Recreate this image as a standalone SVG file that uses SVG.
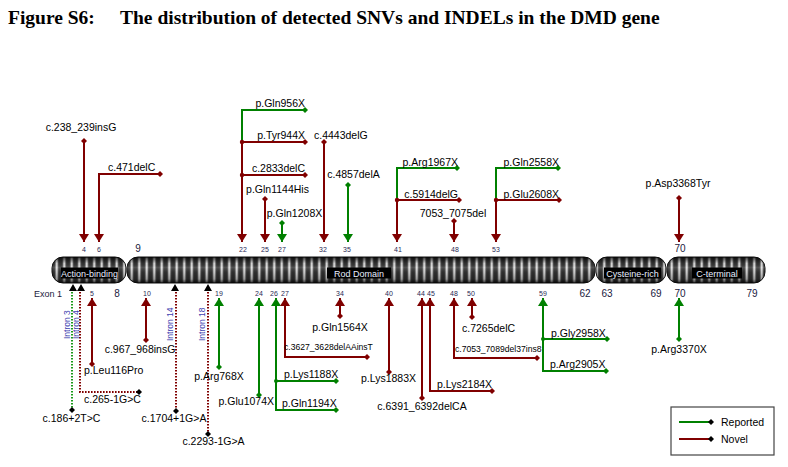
<svg xmlns="http://www.w3.org/2000/svg" width="788" height="467" viewBox="0 0 788 467">
<style>
.t{font-family:"Liberation Sans",Arial,sans-serif;font-size:10.5px;fill:#000}
.s{font-family:"Liberation Sans",Arial,sans-serif;font-size:8.6px;fill:#000}
.n{font-family:"Liberation Sans",Arial,sans-serif;font-size:7px;fill:#2a2a55}
.N{font-family:"Liberation Sans",Arial,sans-serif;font-size:10px;fill:#1a1a40}
.in{font-family:"Liberation Sans",Arial,sans-serif;font-size:8.5px;fill:#4040b0}
.bl{font-family:"Liberation Sans",Arial,sans-serif;font-size:9px;fill:#e8eeff}
.r{stroke:#800000;stroke-width:2;fill:none}
.g{stroke:#008000;stroke-width:2;fill:none}
.rd{stroke:#800000;stroke-width:2;fill:none;stroke-dasharray:1.6 1.4}
.gd{stroke:#1a9a1a;stroke-width:2;fill:none;stroke-dasharray:1.6 1.4}
.ra{marker-start:url(#dr);marker-end:url(#ar)}
.ga{marker-start:url(#dg);marker-end:url(#ag)}
.ro{marker-start:url(#dr)}
.go{marker-start:url(#dg)}
.ie{marker-end:url(#dk)}
.seg{fill:url(#stripes);stroke:#111;stroke-width:1}
.shade{fill:url(#cyl)}
.box{fill:#000}
</style>
<defs>
<marker id="ar" viewBox="0 0 8 10" refX="8" refY="5" markerWidth="8" markerHeight="10" markerUnits="userSpaceOnUse" orient="auto"><path d="M0,0 L8,5 L0,10 z" fill="#800000"/></marker>
<marker id="ag" viewBox="0 0 8 10" refX="8" refY="5" markerWidth="8" markerHeight="10" markerUnits="userSpaceOnUse" orient="auto"><path d="M0,0 L8,5 L0,10 z" fill="#008000"/></marker>
<marker id="dr" viewBox="0 0 6 6" refX="3" refY="3" markerWidth="6" markerHeight="6" markerUnits="userSpaceOnUse" orient="0"><path d="M3,0 L6,3 L3,6 L0,3 z" fill="#800000"/></marker>
<marker id="dg" viewBox="0 0 6 6" refX="3" refY="3" markerWidth="6" markerHeight="6" markerUnits="userSpaceOnUse" orient="0"><path d="M3,0 L6,3 L3,6 L0,3 z" fill="#008000"/></marker>
<marker id="dk" viewBox="0 0 6 6" refX="3" refY="3" markerWidth="6" markerHeight="6" markerUnits="userSpaceOnUse" orient="0"><path d="M3,0 L6,3 L3,6 L0,3 z" fill="#000"/></marker>
<linearGradient id="lite" x1="0" y1="0" x2="1" y2="0"><stop offset="0" stop-color="#666"/><stop offset="0.5" stop-color="#f2f2f2"/><stop offset="1" stop-color="#666"/></linearGradient>
<pattern id="stripes" patternUnits="userSpaceOnUse" x="0" y="0" width="7.5" height="30"><rect width="7.5" height="30" fill="#333"/><rect x="2.5" width="3.5" height="30" fill="url(#lite)"/></pattern>
<linearGradient id="cyl" x1="0" y1="0" x2="0" y2="1"><stop offset="0" stop-color="#000" stop-opacity="0.75"/><stop offset="0.25" stop-color="#000" stop-opacity="0.05"/><stop offset="0.4" stop-color="#fff" stop-opacity="0.15"/><stop offset="0.6" stop-color="#000" stop-opacity="0.1"/><stop offset="0.85" stop-color="#000" stop-opacity="0.3"/><stop offset="1" stop-color="#000" stop-opacity="0.8"/></linearGradient>
</defs>
<rect width="788" height="467" fill="#fff"/>
<text x="8" y="24" font-family="Liberation Serif,'Times New Roman',serif" font-weight="bold" font-size="19.5" fill="#000">Figure S6:<tspan x="120">The distribution of detected SNVs and INDELs in the DMD gene</tspan></text>

<g id="gene">
<rect class="seg" x="52" y="257" width="74" height="26" rx="11"/><rect class="shade" x="52" y="257" width="74" height="26" rx="11"/>
<rect class="seg" x="127" y="257" width="468" height="26" rx="11"/><rect class="shade" x="127" y="257" width="468" height="26" rx="11"/>
<rect class="seg" x="596" y="257" width="70" height="26" rx="11"/><rect class="shade" x="596" y="257" width="70" height="26" rx="11"/>
<rect class="seg" x="667" y="257" width="98" height="26" rx="11"/><rect class="shade" x="667" y="257" width="98" height="26" rx="11"/>
<rect class="box" x="61" y="267.5" width="57" height="11"/><text class="bl" x="89.5" y="276.5" text-anchor="middle">Action-binding</text>
<rect class="box" x="327" y="267.5" width="64" height="11"/><text class="bl" x="359" y="276.5" text-anchor="middle">Rod Domain</text>
<rect class="box" x="604" y="267.5" width="57" height="11"/><text class="bl" x="632.5" y="276.5" text-anchor="middle">Cysteine-rich</text>
<rect class="box" x="692" y="267.5" width="50" height="11"/><text class="bl" x="717" y="276.5" text-anchor="middle">C-terminal</text>
<path d="M73,284 L77,291 L69,291 z M81,284 L85,291 L77,291 z M175,284 L179,291 L171,291 z M208,284 L212,291 L204,291 z" fill="#000"/>
</g>

<g id="exon-numbers" text-anchor="middle">
<text class="n" x="84" y="252">4</text><text class="n" x="99" y="252">6</text><text class="N" x="138" y="252">9</text>
<text class="n" x="243" y="252">22</text><text class="n" x="265" y="252">25</text><text class="n" x="282" y="252">27</text>
<text class="n" x="323" y="252">32</text><text class="n" x="347" y="252">35</text><text class="n" x="398" y="252">41</text>
<text class="n" x="455" y="252">48</text><text class="n" x="496" y="252">53</text><text class="N" x="680" y="252">70</text>
<text class="N" x="48" y="297" style="font-size:9px">Exon 1</text>
<text class="n" x="92" y="296">5</text><text class="N" x="117" y="297">8</text><text class="n" x="147" y="296">10</text>
<text class="n" x="219" y="296">19</text><text class="n" x="259" y="296">24</text><text class="n" x="274" y="296">26</text><text class="n" x="285" y="296">27</text>
<text class="n" x="340" y="296">34</text><text class="n" x="389" y="296">40</text><text class="n" x="421" y="296">44</text><text class="n" x="431" y="296">45</text>
<text class="n" x="454" y="296">48</text><text class="n" x="471" y="296">50</text><text class="n" x="543" y="296">59</text>
<text class="N" x="585" y="297">62</text><text class="N" x="607" y="297">63</text><text class="N" x="656" y="297">69</text><text class="N" x="680" y="297">70</text><text class="N" x="752" y="297">79</text>
</g>

<g id="connectors">
<path class="r ra" d="M84,141 V242"/>
<path class="r ra" d="M160,174 H99 V242"/>
<path class="g go" d="M305,110 H242 V142"/>
<path class="r ra" d="M305,142 H242 V242"/>
<path class="r ro" d="M305,175 H242"/>
<path class="r ra" d="M265,199 V242"/>
<path class="g ga" d="M282,223 V242"/>
<path class="r ra" d="M324,142 V242"/>
<path class="g ga" d="M348,185 V242"/>
<path class="g go" d="M457,168 H397 V200"/>
<path class="r ra" d="M459,200 H397 V242"/>
<path class="r ra" d="M454,221 V242"/>
<path class="g go" d="M558,168 H496 V200"/>
<path class="r ra" d="M559,200 H496 V242"/>
<path class="r ra" d="M679,198 V242"/>
<path class="r ra" d="M92,364 V298"/>
<path class="r ra" d="M146,340 V298"/>
<path class="g ga" d="M219,367 V298"/>
<path class="g ga" d="M259,395 V298"/>
<path class="g ga" d="M336,381 H276 V298"/>
<path class="g go" d="M336,410 H276 V381"/>
<path class="r ra" d="M367,357 H285 V298"/>
<path class="r ra" d="M340,316 V298"/>
<path class="r ra" d="M389,372 V298"/>
<path class="r ra" d="M422,398 V298"/>
<path class="r ra" d="M492,391 H430 V298"/>
<path class="r ra" d="M537,358 H454 V298"/>
<path class="r ra" d="M472,317 V298"/>
<path class="g ga" d="M607,339 H543 V298"/>
<path class="g go" d="M606,371 H543 V339"/>
<path class="g ga" d="M679,339 V298"/>
<path class="gd ie" d="M72,292 V410"/>
<path class="rd ie" d="M80,292 V392 H139"/>
<path class="rd ie" d="M176,292 V411"/>
<path class="rd ie" d="M208,292 V434"/>
<circle cx="242" cy="142" r="2.2" fill="#800000"/><circle cx="242" cy="175" r="2.2" fill="#800000"/>
<circle cx="397" cy="200" r="2.2" fill="#800000"/><circle cx="496" cy="200" r="2.2" fill="#800000"/>
<circle cx="276" cy="381" r="2" fill="#008000"/><circle cx="543" cy="339" r="2" fill="#008000"/>
</g>

<g id="v-c238"><text class="t" x="81" y="131" text-anchor="middle">c.238_239insG</text></g>
<g id="v-c471"><text class="t" x="108" y="171">c.471delC</text></g>
<g id="v-gln956"><text class="t" x="305" y="107" text-anchor="end">p.Gln956X</text></g>
<g id="v-tyr944"><text class="t" x="305" y="139" text-anchor="end">p.Tyr944X</text></g>
<g id="v-c2833"><text class="t" x="305" y="172" text-anchor="end">c.2833delC</text></g>
<g id="v-gln1144"><text class="t" x="277.5" y="193" text-anchor="middle">p.Gln1144His</text></g>
<g id="v-gln1208"><text class="t" x="294.5" y="217" text-anchor="middle">p.Gln1208X</text></g>
<g id="v-c4443"><text class="t" x="314" y="139">c.4443delG</text></g>
<g id="v-c4857"><text class="t" x="353.5" y="178" text-anchor="middle">c.4857delA</text></g>
<g id="v-arg1967"><text class="t" x="458" y="166" text-anchor="end">p.Arg1967X</text></g>
<g id="v-c5914"><text class="t" x="458" y="198" text-anchor="end">c.5914delG</text></g>
<g id="v-7053"><text class="t" x="453" y="217" text-anchor="middle">7053_7075del</text></g>
<g id="v-gln2558"><text class="t" x="559" y="166" text-anchor="end">p.Gln2558X</text></g>
<g id="v-glu2608"><text class="t" x="559" y="198" text-anchor="end">p.Glu2608X</text></g>
<g id="v-asp3368"><text class="t" x="678" y="187" text-anchor="middle">p.Asp3368Tyr</text></g>
<g id="v-leu116"><text class="t" x="84" y="374">p.Leu116Pro</text></g>
<g id="v-c967"><text class="t" x="140" y="353" text-anchor="middle">c.967_968insG</text></g>
<g id="v-arg768"><text class="t" x="219" y="380" text-anchor="middle">p.Arg768X</text></g>
<g id="v-glu1074"><text class="t" x="274" y="405" text-anchor="end">p.Glu1074X</text></g>
<g id="v-lys1188"><text class="t" x="284" y="378">p.Lys1188X</text></g>
<g id="v-gln1194"><text class="t" x="282" y="407">p.Gln1194X</text></g>
<g id="v-c3627"><text class="s" x="284" y="350">c.3627_3628delAAinsT</text></g>
<g id="v-gln1564"><text class="t" x="340" y="331" text-anchor="middle">p.Gln1564X</text></g>
<g id="v-lys1883"><text class="t" x="388.5" y="382" text-anchor="middle">p.Lys1883X</text></g>
<g id="v-c6391"><text class="t" x="422" y="410" text-anchor="middle">c.6391_6392delCA</text></g>
<g id="v-lys2184"><text class="t" x="437" y="388">p.Lys2184X</text></g>
<g id="v-c7053"><text class="s" x="455" y="352">c.7053_7089del37ins8</text></g>
<g id="v-c7265"><text class="t" x="462" y="332">c.7265delC</text></g>
<g id="v-gly2958"><text class="t" x="551" y="337">p.Gly2958X</text></g>
<g id="v-arg2905"><text class="t" x="550" y="368">p.Arg2905X</text></g>
<g id="v-arg3370"><text class="t" x="679" y="353" text-anchor="middle">p.Arg3370X</text></g>
<g id="v-c186"><text class="t" x="71.5" y="422" text-anchor="middle">c.186+2T&gt;C</text><text class="in" transform="translate(70,339) rotate(-90)">Intron 3</text></g>
<g id="v-c265"><text class="t" x="84" y="403">c.265-1G&gt;C</text><text class="in" transform="translate(79,339) rotate(-90)">Intron 4</text></g>
<g id="v-c1704"><text class="t" x="174" y="422" text-anchor="middle">c.1704+1G&gt;A</text><text class="in" transform="translate(173,341) rotate(-90)">Intron 14</text></g>
<g id="v-c2293"><text class="t" x="213.5" y="445" text-anchor="middle">c.2293-1G&gt;A</text><text class="in" transform="translate(205,341) rotate(-90)">Intron 18</text></g>

<g id="legend">
<rect x="671" y="407" width="103" height="48" fill="#fff" stroke="#444" stroke-width="1.2"/>
<path class="g ie" d="M679,422 H711"/>
<path class="r ie" d="M679,439 H711"/>
<text class="t" x="721" y="426">Reported</text>
<text class="t" x="721" y="443">Novel</text>
</g>
</svg>
